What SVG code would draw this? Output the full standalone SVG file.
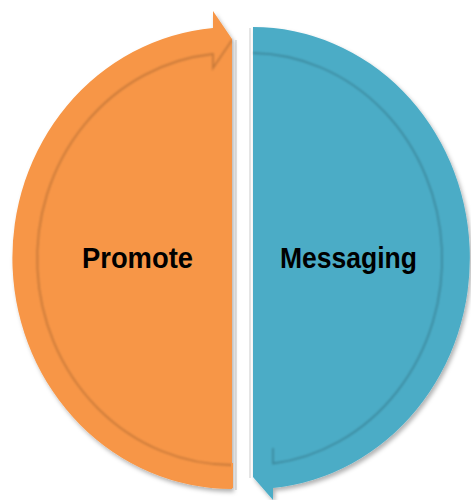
<svg xmlns="http://www.w3.org/2000/svg" width="471" height="500" viewBox="0 0 471 500">
  <defs>
    <filter id="shadow" x="-10%" y="-10%" width="120%" height="120%">
      <feDropShadow dx="2" dy="3" stdDeviation="2" flood-color="#000" flood-opacity="0.3"/>
    </filter>
    <filter id="soft" x="-5%" y="-5%" width="110%" height="110%">
      <feGaussianBlur stdDeviation="0.9"/>
    </filter>
  </defs>
  <style>
    .label { font-family: "Liberation Sans", Arial, sans-serif; font-weight: bold; font-size: 29px; fill: #000; text-anchor: middle; }
    .edge { stroke: rgba(0,0,0,0.2); stroke-width: 1.8; fill: none; filter: url(#soft); }
    .gap { stroke: #dcdcdc; stroke-width: 1.5; }
  </style>
  <rect width="471" height="500" fill="#ffffff"/>
  <g id="gap-lines">
    <line class="gap" x1="236" y1="40" x2="236" y2="490"/>
    <line class="gap" x1="250" y1="28" x2="250" y2="478"/>
  </g>
  <g id="promote">
    <path d="M232,489 A220,231 0 0 1 213,27.9 L213,11 L232,39 Z" fill="#F79646" filter="url(#shadow)"/>
    <path class="edge" d="M232,40 L213,68 L213,54 A195,206 0 0 0 232,465"/>
    <rect x="231" y="463" width="2" height="25" fill="#F79646"/>
    <text class="label" x="137.5" y="268" textLength="111" lengthAdjust="spacingAndGlyphs">Promote</text>
  </g>
  <g id="messaging">
    <path d="M253,27 A217,231 0 0 1 273,488 L273,500 L253,477 Z" fill="#4BACC6" filter="url(#shadow)"/>
    <path class="edge" d="M253,53 A192,206 0 0 1 273,463.5 L273,448"/>
    <text class="label" x="348.5" y="268" textLength="137" lengthAdjust="spacingAndGlyphs">Messaging</text>
  </g>
</svg>
